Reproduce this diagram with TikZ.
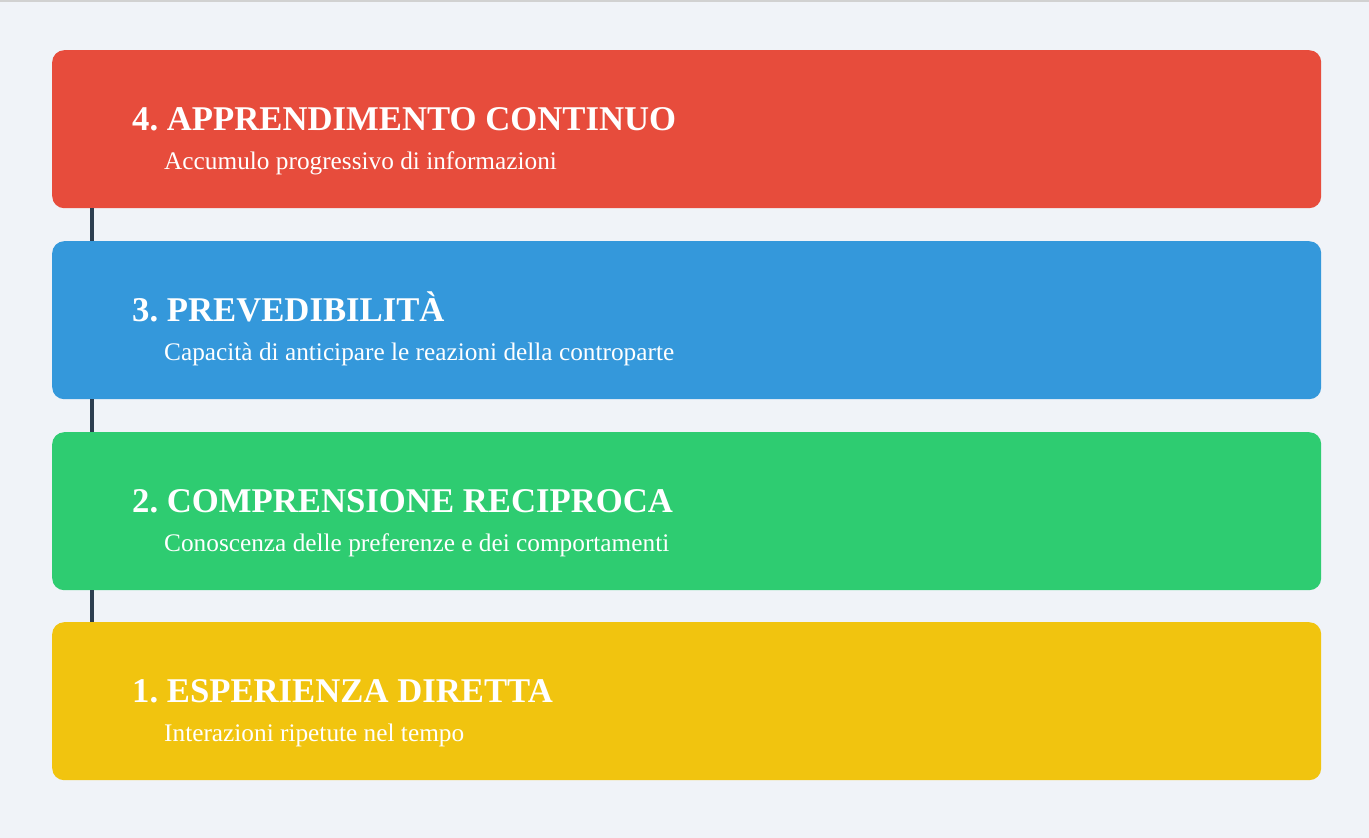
\documentclass[tikz,border=0pt]{standalone}
\usepackage{fontspec}
\setmainfont{Liberation Serif}
\usepackage{xcolor}
\usetikzlibrary{positioning}
\frenchspacing

\definecolor{bgpage}{HTML}{F0F3F8}
\definecolor{redstep}{HTML}{E74C3C}
\definecolor{bluestep}{HTML}{3498DB}
\definecolor{greenstep}{HTML}{2ECC71}
\definecolor{yellowstep}{HTML}{F1C40F}
\definecolor{darkline}{HTML}{2C3E50}

\tikzset{
  stepbox/.style={anchor=north west, rounded corners=12pt, minimum width=1269pt,
    minimum height=158pt, inner sep=0pt},
  steptitle/.style={anchor=base west, inner sep=0pt, text=white,
    font=\fontsize{34.7}{40}\selectfont\bfseries},
  stepsub/.style={anchor=base west, inner sep=0pt, text=white,
    font=\fontsize{25.3}{30}\selectfont},
  link/.style={darkline, line width=4.5pt}
}

\begin{document}
\begin{tikzpicture}[x=1pt, y=-1pt]

  % sfondo
  \fill[bgpage] (0,0) rectangle (1369,838);
  \useasboundingbox (0,0) rectangle (1369,838);
  \draw[black!18, line width=1.5pt] (0,0.75) -- (1369,0.75);

  % blocchi
  \node[stepbox, fill=redstep]    (box4) at (52,50)  {};
  \node[stepbox, fill=bluestep]   (box3) at (52,241) {};
  \node[stepbox, fill=greenstep]  (box2) at (52,432) {};
  \node[stepbox, fill=yellowstep] (box1) at (52,622) {};

  % collegamenti
  \draw[link] ([xshift=40pt]box4.south west) -- ([xshift=40pt]box3.north west);
  \draw[link] ([xshift=40pt]box3.south west) -- ([xshift=40pt]box2.north west);
  \draw[link] ([xshift=40pt]box2.south west) -- ([xshift=40pt]box1.north west);

  % testi
  \node[steptitle] (t4) at ([xshift=80pt, yshift=-80pt]box4.north west) {4. APPRENDIMENTO CONTINUO};
  \node[stepsub]   (s4) at ([xshift=112pt, yshift=-119pt]box4.north west) {Accumulo progressivo di informazioni};

  \node[steptitle] (t3) at ([xshift=80pt, yshift=-80pt]box3.north west) {3. PREVEDIBILITÀ};
  \node[stepsub]   (s3) at ([xshift=112pt, yshift=-119pt]box3.north west) {Capacità di anticipare le reazioni della controparte};

  \node[steptitle] (t2) at ([xshift=80pt, yshift=-80pt]box2.north west) {2. COMPRENSIONE RECIPROCA};
  \node[stepsub]   (s2) at ([xshift=112pt, yshift=-119pt]box2.north west) {Conoscenza delle preferenze e dei comportamenti};

  \node[steptitle] (t1) at ([xshift=80pt, yshift=-80pt]box1.north west) {1. ESPERIENZA DIRETTA};
  \node[stepsub]   (s1) at ([xshift=112pt, yshift=-119pt]box1.north west) {Interazioni ripetute nel tempo};

\end{tikzpicture}
\end{document}
